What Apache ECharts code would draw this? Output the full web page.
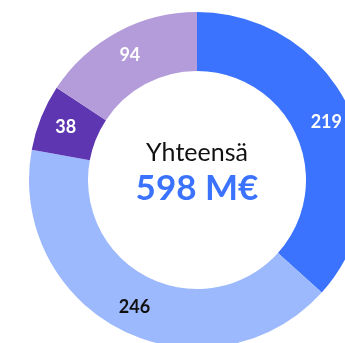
<!DOCTYPE html>
<html>
<head>
<meta charset="utf-8">
<script src="https://cdn.jsdelivr.net/npm/echarts@6/dist/echarts.min.js"></script>
<style>
  html, body { margin: 0; padding: 0; background: #ffffff; }
  #chart { width: 345px; height: 343px; }
</style>
</head>
<body>
<div id="chart"></div>
<script>
// Slice values, clockwise from 12 o'clock
const sliceValues = [219, 246, 38, 94];
const sliceColors = ['#3b73fe', '#9db9fd', '#5e36b1', '#b39cd9'];
const labelColors = ['#ffffff', '#111111', '#ffffff', '#ffffff'];
const totalLabel = 'Yhteensä';
const totalValue = '598 M€';

const chart = echarts.init(document.getElementById('chart'), null, { renderer: 'canvas' });

const pieData = sliceValues.map((v, i) => ({
  value: v,
  itemStyle: { color: sliceColors[i] },
  label: { color: labelColors[i] }
}));

chart.setOption({
  animation: false,
  backgroundColor: '#ffffff',
  series: [{
    type: 'pie',
    center: [197, 180],
    radius: [109, 168],
    startAngle: 90,
    clockwise: true,
    avoidLabelOverlap: false,
    itemStyle: { borderWidth: 0 },
    label: {
      show: true,
      position: 'inside',
      formatter: '{c}',
      fontFamily: 'Lato',
      fontSize: 18,
      fontWeight: 'bold'
    },
    labelLine: { show: false },
    emphasis: { disabled: true },
    data: pieData
  }],
  graphic: [
    {
      type: 'text',
      x: 197, y: 153,
      style: {
        text: totalLabel,
        fontFamily: 'Lato',
        fontSize: 25,
        fill: '#111111',
        align: 'center',
        verticalAlign: 'middle'
      }
    },
    {
      type: 'text',
      x: 197, y: 189,
      style: {
        text: totalValue,
        fontFamily: 'Lato',
        fontSize: 35,
        fontWeight: 'bold',
        fill: '#3b73fe',
        align: 'center',
        verticalAlign: 'middle'
      }
    }
  ]
});
</script>
</body>
</html>
